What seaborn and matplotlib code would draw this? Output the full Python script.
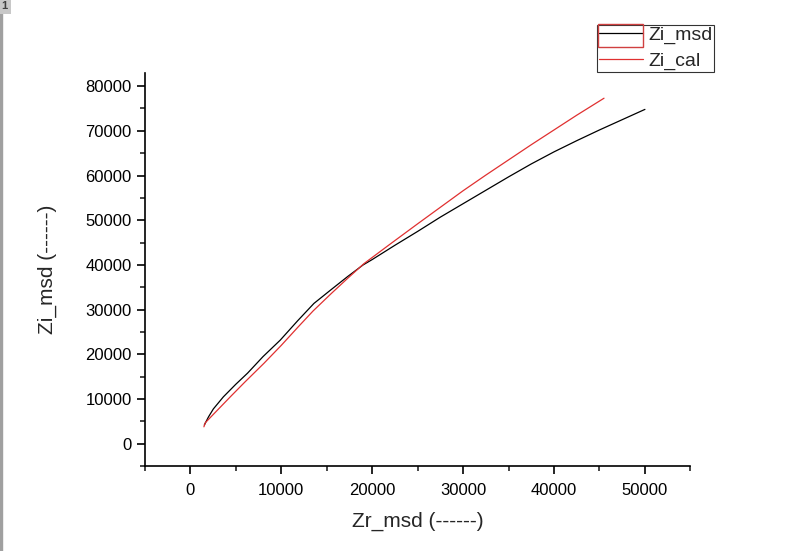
import pandas as pd
import matplotlib.pyplot as plt
import matplotlib.patches as mpatches
import seaborn as sns
from matplotlib.ticker import MultipleLocator

# measured curve (black)
zr_msd = [1545, 2000, 2540, 3640, 5000, 6300, 8000, 9900, 11800, 13600, 15500,
          17300, 19000, 20000, 22500, 25000, 27500, 30000, 32500, 35000, 37500,
          40000, 42500, 45000, 47500, 50000]
zi_msd = [4200, 6000, 7800, 10500, 13300, 15800, 19500, 23200, 27500, 31400, 34500,
          37400, 40000, 41200, 44400, 47500, 50700, 53700, 56700, 59700, 62600,
          65300, 67800, 70200, 72500, 74800]

# calculated curve (red)
zr_cal = [1500, 1650, 2500, 4400, 6000, 8100, 10000, 11800, 13500, 15500, 17300,
          19100, 22000, 25000, 27500, 30000, 32500, 35000, 37500, 40000, 42500, 45500]
zi_cal = [3800, 4700, 6500, 10500, 13800, 18000, 22000, 26000, 29700, 33600, 37000,
          40300, 44700, 49200, 52900, 56600, 60100, 63500, 66900, 70200, 73500, 77300]

df_msd = pd.DataFrame({"Zr": zr_msd, "Zi": zi_msd})
df_cal = pd.DataFrame({"Zr": zr_cal, "Zi": zi_cal})

sns.set_theme(style="ticks")
plt.rcParams["font.family"] = ["Liberation Sans", "DejaVu Sans"]

fig = plt.figure(figsize=(8, 5.51), dpi=100)
ax = fig.add_axes([0.181, 0.154, 0.682, 0.714])

sns.lineplot(data=df_msd, x="Zr", y="Zi", ax=ax, color="black", linewidth=0.9,
             sort=False, label="Zi_msd")
sns.lineplot(data=df_cal, x="Zr", y="Zi", ax=ax, color="#e03030", linewidth=0.9,
             sort=False, label="Zi_cal")

ax.set_xlim(-5000, 55000)
ax.set_ylim(-5000, 83000)
ax.xaxis.set_major_locator(MultipleLocator(10000))
ax.xaxis.set_minor_locator(MultipleLocator(5000))
ax.yaxis.set_major_locator(MultipleLocator(10000))
ax.yaxis.set_minor_locator(MultipleLocator(5000))
ax.tick_params(axis="both", which="major", direction="out", length=6, width=1.2,
               labelsize=12, colors="black")
ax.tick_params(axis="both", which="minor", direction="out", length=3.5, width=1.2)
ax.xaxis.set_tick_params(pad=6)

for side in ["top", "right"]:
    ax.spines[side].set_visible(False)
for side in ["left", "bottom"]:
    ax.spines[side].set_linewidth(1.2)
    ax.spines[side].set_color("black")

ax.set_xlabel("Zr_msd (------)", fontsize=15, labelpad=10)
ax.set_ylabel("Zi_msd (------)", fontsize=15, labelpad=20)

leg = ax.legend(loc="upper left", bbox_to_anchor=(0.828, 1.122), frameon=True,
                fancybox=False, fontsize=14, handlelength=2.3, handletextpad=0.25,
                borderpad=0.1, labelspacing=0.38, borderaxespad=0)
leg.get_frame().set_edgecolor("black")
leg.get_frame().set_linewidth(0.8)

# red selection box around first legend entry
fig.patches.append(mpatches.Rectangle((598 / 800, 1 - 47 / 551), 45 / 800, 23 / 551,
                                      transform=fig.transFigure, fill=False,
                                      edgecolor="#d04040", linewidth=1))

# page marker at top-left
fig.patches.append(mpatches.Rectangle((0, 0), 2 / 800, 1, transform=fig.transFigure,
                                      color="#a0a0a0"))
fig.text(0.002, 0.998, "1", ha="left", va="top", fontsize=8, fontweight="bold",
         color="#404040",
         bbox=dict(boxstyle="square,pad=0.25", facecolor="#c8c8c8", edgecolor="none"))

plt.savefig("out.png", dpi=100)
